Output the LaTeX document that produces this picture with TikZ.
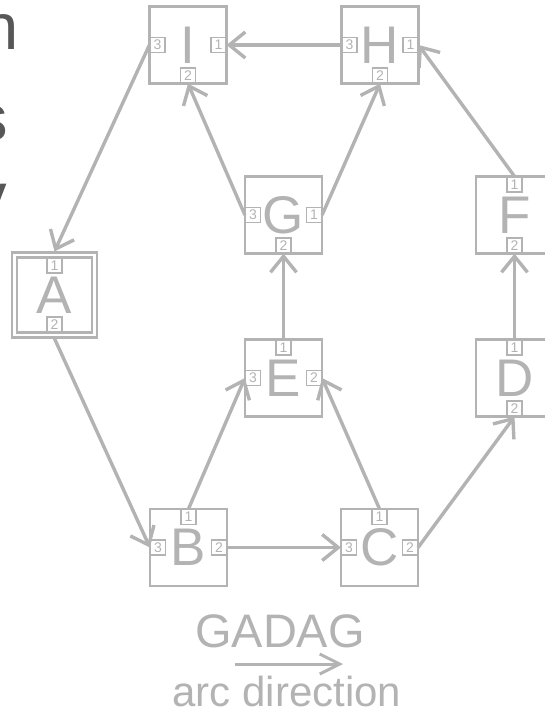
\documentclass[tikz,border=0pt]{standalone}
\usepackage{fontspec}
\setmainfont{Liberation Sans}
\usetikzlibrary{arrows.meta}
\definecolor{lg}{HTML}{B3B3B3}
\definecolor{dg}{HTML}{575757}
\begin{document}
\begin{tikzpicture}[x=1pt,y=-1pt,
  box/.style={draw=lg, line width=2.2pt, minimum size=77pt, inner sep=0pt, text=lg,
    font=\fontsize{53}{60}\selectfont},
  port/.style={draw=lg, line width=1.3pt, minimum size=15pt, inner sep=0pt, text=lg,
    font=\fontsize{14}{14}\selectfont},
  arc/.style={draw=lg, line width=3.4pt, -{Straight Barb[length=16pt,width=26pt]}},
  bigletter/.style={text=dg, inner sep=0pt, anchor=base west, font=\fontsize{65}{70}\selectfont}]
\useasboundingbox (0,0) rectangle (545,712);
\clip (0,0) rectangle (545,712);

% cut-off text at the left edge
\node[bigletter] (tn) at (-17.5,49) {n};
\node[bigletter] (ts) at (-24.5,140) {s};
\node[bigletter] (ty) at (-25.5,218) {y};

% main nodes
\node[box] (I) at (188,45) {I};
\node[box] (H) at (380,45) {H};
\node[box] (G) at (283.5,215) {G};
\node[box] (F) at (514.5,215) {F};
\node[box, minimum size=75pt] (A) at (54.5,295) {A};
\node[draw=lg, line width=2.2pt, minimum size=85pt, inner sep=0pt] (Ao) at (54.5,295) {};
\node[box] (E) at (283.5,378) {E};
\node[box] (D) at (514.5,378) {D};
\node[box] (B) at (188.5,547.5) {B};
\node[box] (C) at (379.5,547.5) {C};

% ports
\node[port, anchor=west]  (I3) at ([xshift=1pt]I.west) {3};
\node[port, anchor=east]  (I1) at ([xshift=-1pt]I.east) {1};
\node[port, anchor=south] (I2) at ([yshift=1pt]I.south) {2};
\node[port, anchor=west]  (H3) at ([xshift=1pt]H.west) {3};
\node[port, anchor=east]  (H1) at ([xshift=-1pt]H.east) {1};
\node[port, anchor=south] (H2) at ([yshift=1pt]H.south) {2};
\node[port, anchor=west]  (G3) at ([xshift=1pt]G.west) {3};
\node[port, anchor=east]  (G1) at ([xshift=-1pt]G.east) {1};
\node[port, anchor=south] (G2) at ([yshift=1pt]G.south) {2};
\node[port, anchor=north] (F1) at ([yshift=-1pt]F.north) {1};
\node[port, anchor=south] (F2) at ([yshift=1pt]F.south) {2};
\node[port, anchor=north] (A1) at ([yshift=-1pt]A.north) {1};
\node[port, anchor=south] (A2) at ([yshift=1pt]A.south) {2};
\node[port, anchor=north] (E1) at ([yshift=-1pt]E.north) {1};
\node[port, anchor=west]  (E3) at ([xshift=1pt]E.west) {3};
\node[port, anchor=east]  (E2) at ([xshift=-1pt]E.east) {2};
\node[port, anchor=north] (D1) at ([yshift=-1pt]D.north) {1};
\node[port, anchor=south] (D2) at ([yshift=1pt]D.south) {2};
\node[port, anchor=north] (B1) at ([yshift=-1pt]B.north) {1};
\node[port, anchor=west]  (B3) at ([xshift=1pt]B.west) {3};
\node[port, anchor=east]  (B2) at ([xshift=-1pt]B.east) {2};
\node[port, anchor=north] (C1) at ([yshift=-1pt]C.north) {1};
\node[port, anchor=west]  (C3) at ([xshift=1pt]C.west) {3};
\node[port, anchor=east]  (C2) at ([xshift=-1pt]C.east) {2};

% arcs
\draw[arc] (I3.west) -- (Ao.north);
\draw[arc] (H3.west) -- (I1.east);
\draw[arc] (G3.west) -- (I2.south);
\draw[arc] (G1.east) -- (H2.south);
\draw[arc] (F1.north) -- (H1.east);
\draw[arc] (E1.north) -- (G2.south);
\draw[arc] (D1.north) -- (F2.south);
\draw[arc] (B1.north) -- (E3.west);
\draw[arc] (C1.north) -- (E2.east);
\draw[arc] (C2.east) -- (D2.south);
\draw[arc] (B2.east) -- (C3.west);
\draw[arc] (Ao.south) -- (B3.west);

% legend
\node[text=lg, inner sep=0pt, anchor=base, font=\fontsize{47}{50}\selectfont] (gadag) at (280,647) {GADAG};
\coordinate (L1) at (235,664);
\coordinate (L2) at (343,664);
\draw[draw=lg, line width=3pt, -{Straight Barb[length=20pt,width=20pt]}] (L1) -- (L2);
\node[text=lg, inner sep=0pt, anchor=base, font=\fontsize{42}{45}\selectfont] (arcdir) at (287,706) {arc direction};
\end{tikzpicture}
\end{document}
